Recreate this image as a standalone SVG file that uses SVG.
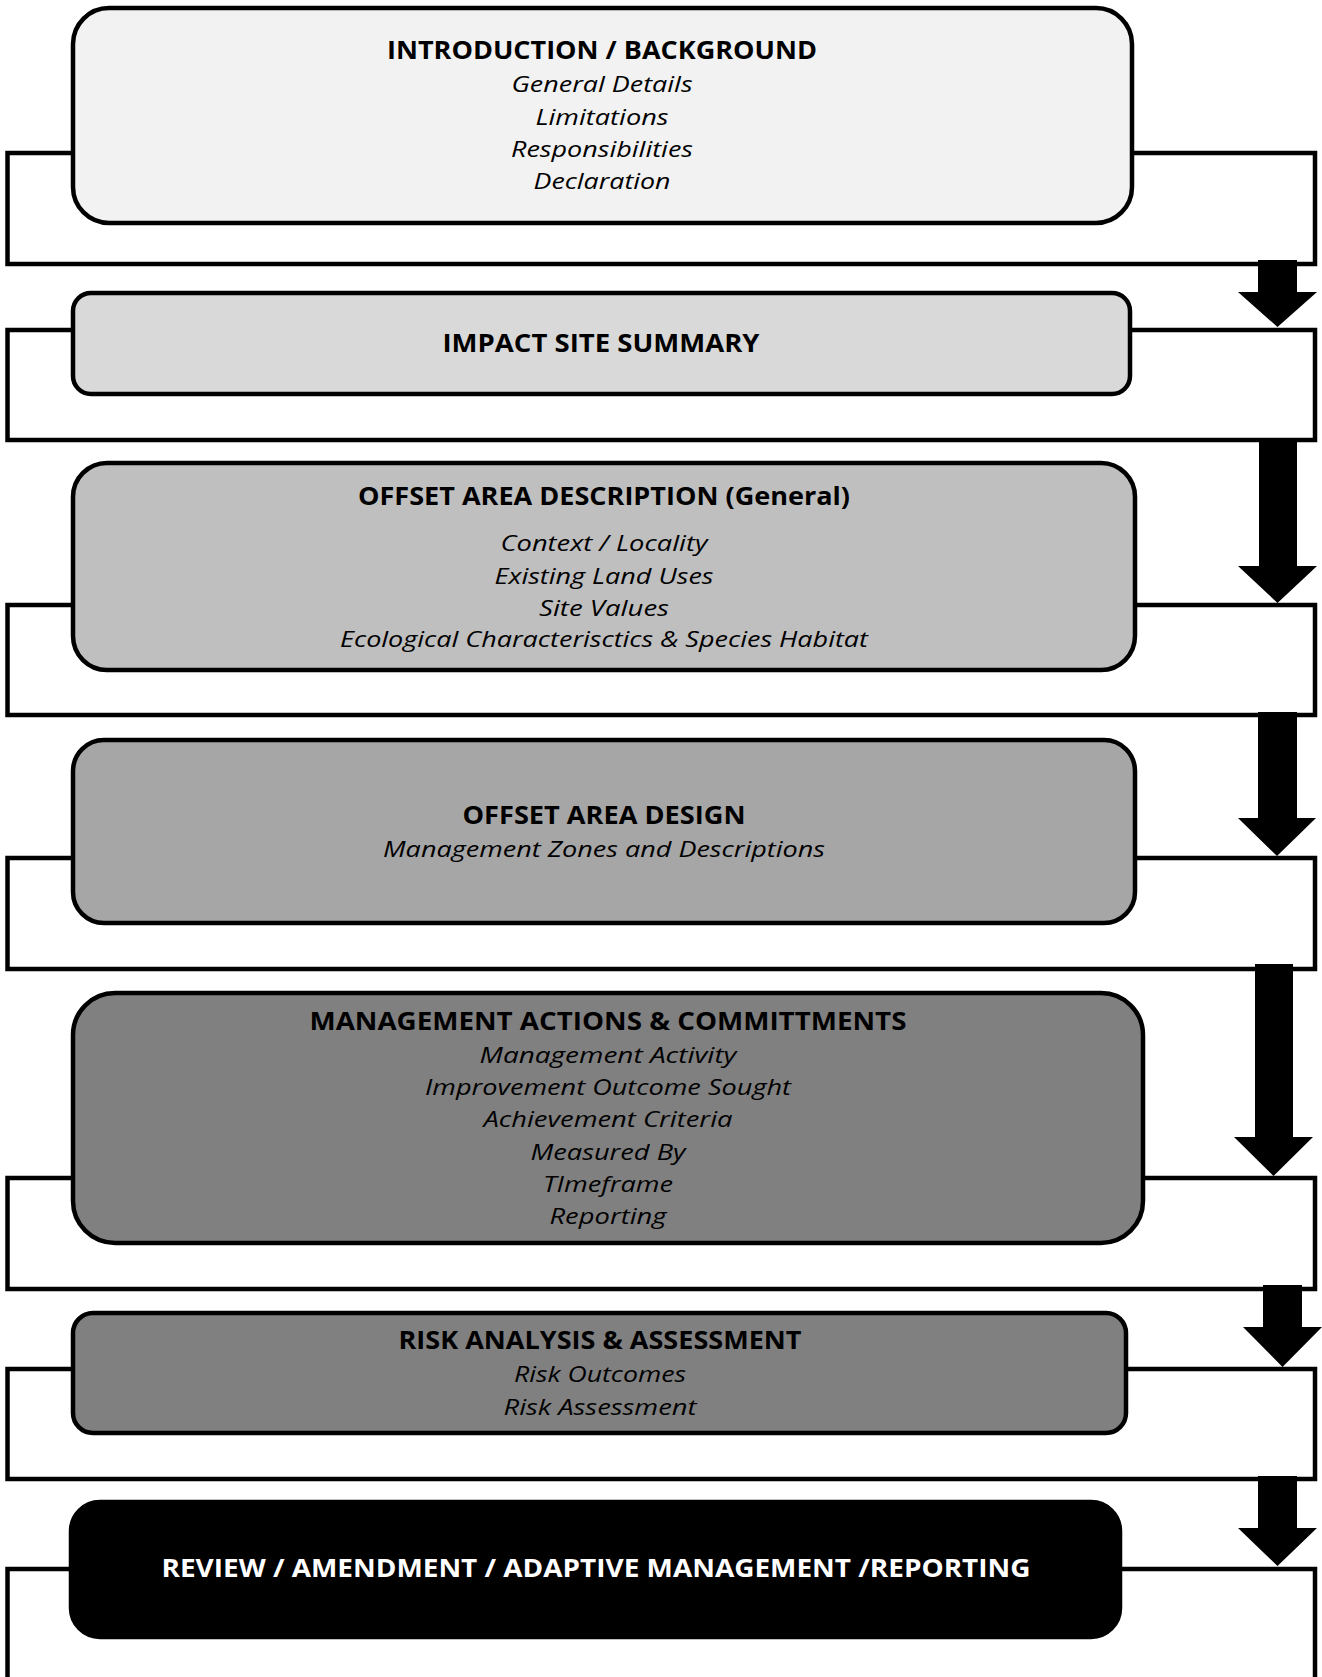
<svg xmlns="http://www.w3.org/2000/svg" width="1322" height="1677" viewBox="0 0 1322 1677">
<style>
.frame{fill:#fff;stroke:#000;stroke-width:4.5}
.box{stroke:#000;stroke-width:4.5}
.t{font-family:"Open Sans","Noto Sans","Liberation Sans",sans-serif;font-size:25.5px;font-weight:bold;text-anchor:middle;fill:#000}
.s{font-family:"Open Sans","Noto Sans","Liberation Sans",sans-serif;font-size:22.5px;font-style:italic;text-anchor:middle;fill:#000}
.w{fill:#fff}
.arrow{fill:#000;stroke:none}
</style>
<rect width="1322" height="1677" fill="#fff"/>
<g id="frames">
<rect class="frame" x="7.5" y="153" width="1307.5" height="111"/>
<rect class="frame" x="7.5" y="330" width="1307.5" height="110"/>
<rect class="frame" x="7.5" y="605" width="1307.5" height="110"/>
<rect class="frame" x="7.5" y="858" width="1307.5" height="111"/>
<rect class="frame" x="7.5" y="1178" width="1307.5" height="111"/>
<rect class="frame" x="7.5" y="1369" width="1307.5" height="110"/>
<rect class="frame" x="7.5" y="1569" width="1307.5" height="140"/>
</g>
<g id="connectors">
<polygon class="arrow" points="1258,260 1297,260 1297,292 1317,292 1277.5,327 1238,292 1258,292"/>
<polygon class="arrow" points="1259,438 1297,438 1297,566 1317,566 1277.5,603 1238,566 1259,566"/>
<polygon class="arrow" points="1258,712 1297,712 1297,818 1316,818 1277,856 1238,818 1258,818"/>
<polygon class="arrow" points="1255,964 1293,964 1293,1137 1313,1137 1273.5,1176 1234,1137 1255,1137"/>
<polygon class="arrow" points="1263,1285 1302,1285 1302,1327 1322,1327 1282.5,1367 1243,1327 1263,1327"/>
<polygon class="arrow" points="1258,1476 1297,1476 1297,1528 1317,1528 1277.5,1566 1238,1528 1258,1528"/>
</g>
<g id="intro">
<rect class="box" x="73" y="8" width="1059" height="215" rx="36" fill="#f2f2f2"/>
<text class="t" x="602" y="59" textLength="430" lengthAdjust="spacingAndGlyphs">INTRODUCTION / BACKGROUND</text>
<text class="s" x="602" y="92" textLength="181" lengthAdjust="spacingAndGlyphs">General Details</text>
<text class="s" x="602" y="125" textLength="133" lengthAdjust="spacingAndGlyphs">Limitations</text>
<text class="s" x="602" y="157" textLength="182" lengthAdjust="spacingAndGlyphs">Responsibilities</text>
<text class="s" x="602" y="189" textLength="137" lengthAdjust="spacingAndGlyphs">Declaration</text>
</g>
<g id="impact">
<rect class="box" x="73" y="293" width="1057" height="101" rx="18" fill="#d9d9d9"/>
<text class="t" x="601" y="352" textLength="317" lengthAdjust="spacingAndGlyphs">IMPACT SITE SUMMARY</text>
</g>
<g id="offset-desc">
<rect class="box" x="73" y="463" width="1062" height="207" rx="34" fill="#bfbfbf"/>
<text class="t" x="604" y="505" textLength="492" lengthAdjust="spacingAndGlyphs">OFFSET AREA DESCRIPTION (General)</text>
<text class="s" x="604" y="551" textLength="207" lengthAdjust="spacingAndGlyphs">Context / Locality</text>
<text class="s" x="604" y="584" textLength="219" lengthAdjust="spacingAndGlyphs">Existing Land Uses</text>
<text class="s" x="604" y="616" textLength="130" lengthAdjust="spacingAndGlyphs">Site Values</text>
<text class="s" x="604" y="647" textLength="528" lengthAdjust="spacingAndGlyphs">Ecological Characterisctics &amp; Species Habitat</text>
</g>
<g id="offset-design">
<rect class="box" x="73" y="740" width="1062" height="183" rx="31" fill="#a6a6a6"/>
<text class="t" x="604" y="824" textLength="283" lengthAdjust="spacingAndGlyphs">OFFSET AREA DESIGN</text>
<text class="s" x="604" y="857" textLength="442" lengthAdjust="spacingAndGlyphs">Management Zones and Descriptions</text>
</g>
<g id="management">
<rect class="box" x="73" y="993" width="1070" height="250" rx="42" fill="#808080"/>
<text class="t" x="608" y="1030" textLength="597" lengthAdjust="spacingAndGlyphs">MANAGEMENT ACTIONS &amp; COMMITTMENTS</text>
<text class="s" x="608" y="1063" textLength="257" lengthAdjust="spacingAndGlyphs">Management Activity</text>
<text class="s" x="608" y="1095" textLength="366" lengthAdjust="spacingAndGlyphs">Improvement Outcome Sought</text>
<text class="s" x="608" y="1127" textLength="249" lengthAdjust="spacingAndGlyphs">Achievement Criteria</text>
<text class="s" x="608" y="1160" textLength="155" lengthAdjust="spacingAndGlyphs">Measured By</text>
<text class="s" x="608" y="1192" textLength="130" lengthAdjust="spacingAndGlyphs">TImeframe</text>
<text class="s" x="608" y="1224" textLength="117" lengthAdjust="spacingAndGlyphs">Reporting</text>
</g>
<g id="risk">
<rect class="box" x="73" y="1313" width="1053" height="120" rx="20" fill="#808080"/>
<text class="t" x="600" y="1349" textLength="403" lengthAdjust="spacingAndGlyphs">RISK ANALYSIS &amp; ASSESSMENT</text>
<text class="s" x="600" y="1382" textLength="172" lengthAdjust="spacingAndGlyphs">Risk Outcomes</text>
<text class="s" x="600" y="1415" textLength="193" lengthAdjust="spacingAndGlyphs">Risk Assessment</text>
</g>
<g id="review">
<rect class="box" x="71" y="1502" width="1049" height="135" rx="29" fill="#000"/>
<text class="t w" x="596" y="1577" textLength="869" lengthAdjust="spacingAndGlyphs">REVIEW / AMENDMENT / ADAPTIVE MANAGEMENT /REPORTING</text>
</g>
</svg>
